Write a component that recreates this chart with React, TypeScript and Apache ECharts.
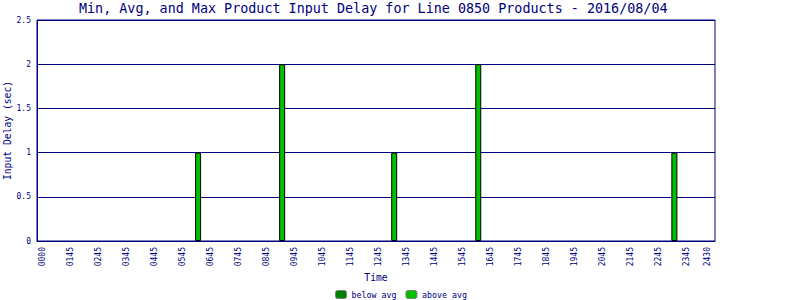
import React, { useEffect, useRef } from "react";
import * as echarts from "echarts";

const titleText = "Min, Avg, and Max Product Input Delay for Line 0850 Products - 2016/08/04";
const tickTimes = [0.75, 1.75, 2.75, 3.75, 4.75, 5.75, 6.75, 7.75, 8.75, 9.75, 10.75, 11.75, 12.75, 13.75, 14.75, 15.75, 16.75, 17.75, 18.75, 19.75, 20.75, 21.75, 22.75, 23.75, 24.5];
const tickLabels = ["0000", "0145", "0245", "0345", "0445", "0545", "0645", "0745", "0845", "0945", "1045", "1145", "1245", "1345", "1445", "1545", "1645", "1745", "1845", "1945", "2045", "2145", "2245", "2345", "2430"];
const barTimes = [6.3, 9.3, 13.3, 16.3, 23.3];
const aboveAvg = [1, 2, 1, 2, 1];
const belowAvg: number[] = [];
const yTicks = [0, 0.5, 1, 1.5, 2, 2.5];

const NAVY = "#000080";
const FONT = "DejaVu Sans Mono";

export default function App() {
  const ref = useRef<HTMLDivElement>(null);
  useEffect(() => {
    if (!ref.current) return;
    const chart = echarts.init(ref.current, null, { renderer: "svg" });
    chart.setOption({
      animation: false,
      backgroundColor: "#ffffff",
      title: {
        text: titleText,
        left: 79,
        top: 2,
        padding: 0,
        textStyle: { fontFamily: FONT, fontSize: 13.4, fontWeight: "normal", color: NAVY },
      },
      legend: {
        left: 335,
        top: 290,
        padding: 0,
        itemWidth: 11,
        itemHeight: 8,
        itemGap: 9,
        textStyle: { fontFamily: FONT, fontSize: 8.3, color: NAVY },
        itemStyle: { borderColor: "#808080", borderWidth: 1 },
        data: ["below avg", "above avg"],
      },
      grid: {
        left: 37,
        top: 20,
        width: 678,
        height: 221,
        containLabel: false,
        outerBoundsMode: "none",
        show: true,
        borderColor: NAVY,
        borderWidth: 1,
        backgroundColor: "#ffffff",
      },
      xAxis: {
        type: "value",
        min: 0.55,
        max: 24.75,
        name: "Time",
        nameLocation: "middle",
        nameGap: 31,
        nameMoveOverlap: false,
        nameTextStyle: { fontFamily: FONT, fontSize: 9.7, color: NAVY },
        axisLine: { show: true, lineStyle: { color: NAVY } },
        axisTick: { show: false },
        splitLine: { show: false },
        axisLabel: {
          customValues: tickTimes,
          rotate: 90,
          margin: 6,
          fontFamily: FONT,
          fontSize: 8,
          color: NAVY,
          formatter: (v: number) => {
            const i = tickTimes.findIndex((t) => Math.abs(t - v) < 1e-6);
            return i >= 0 ? tickLabels[i] : "";
          },
        },
      },
      yAxis: {
        type: "value",
        min: yTicks[0],
        max: yTicks[yTicks.length - 1],
        interval: 0.5,
        name: "Input Delay (sec)",
        nameLocation: "middle",
        nameGap: 25,
        nameMoveOverlap: false,
        nameTextStyle: { fontFamily: FONT, fontSize: 9.7, color: NAVY },
        axisLine: { show: true, lineStyle: { color: NAVY } },
        axisTick: { show: false },
        splitLine: { show: true, lineStyle: { color: NAVY, width: 1 } },
        axisLabel: { margin: 6, fontFamily: FONT, fontSize: 8, color: NAVY },
      },
      series: [
        {
          name: "below avg",
          type: "bar",
          stack: "total",
          barWidth: 6,
          itemStyle: { color: "#008000", borderColor: "#000000", borderWidth: 1 },
          data: belowAvg.map((v, i) => [barTimes[i], v]),
        },
        {
          name: "above avg",
          type: "bar",
          stack: "total",
          barWidth: 6,
          itemStyle: { color: "#00c000", borderColor: "#000000", borderWidth: 1 },
          data: aboveAvg.map((v, i) => [barTimes[i], v]),
        },
      ],
    });
    return () => chart.dispose();
  }, []);
  return <div ref={ref} style={{ width: 800, height: 300, position: "absolute", left: 0, top: 0 }} />;
}
